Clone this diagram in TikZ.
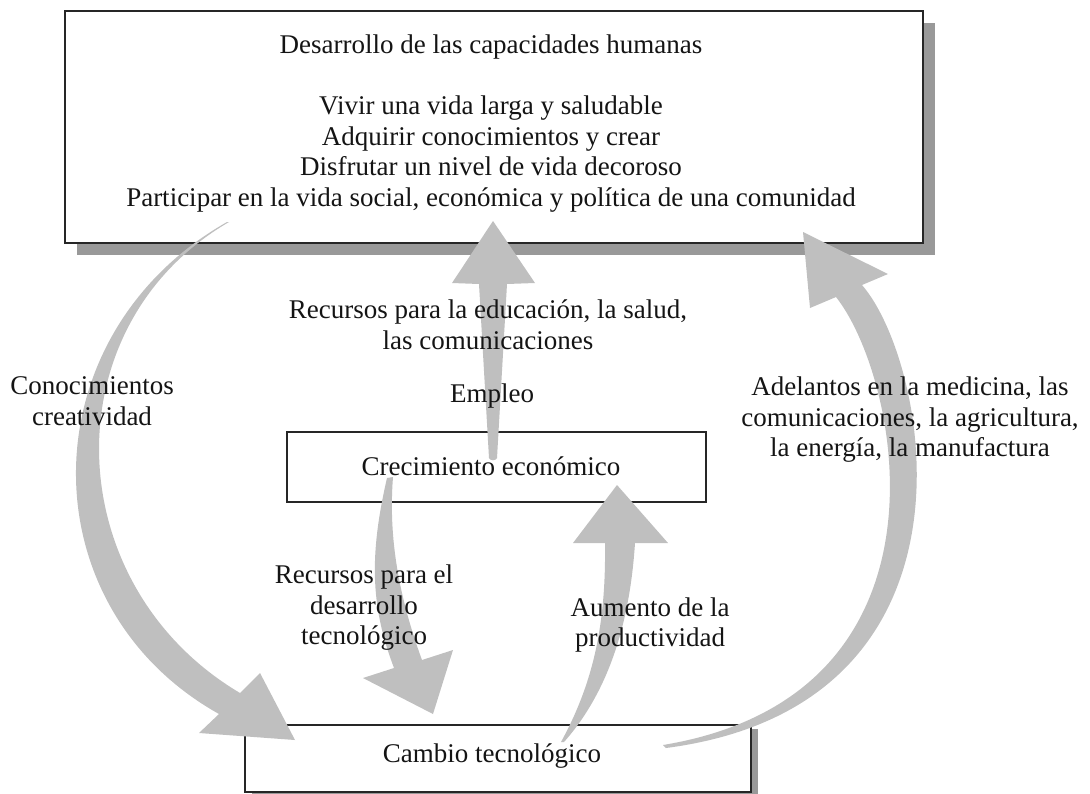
\documentclass[tikz,border=0pt]{standalone}
\usepackage{fontspec}
\setmainfont{Liberation Serif}
\usetikzlibrary{shadows}
\definecolor{flecha}{gray}{0.75}
\definecolor{sombra}{gray}{0.6}
\begin{document}
\begin{tikzpicture}
[x=1pt, y=-1pt,
  cajadecorate/.style={shape=rectangle,draw=black!85,fill=white,inner sep=0pt},
  textdecorate/.style={align=center,font=\fontsize{27}{30.5}\selectfont,text=black!92},
  flechadecorate/.style={fill=flecha}]
\useasboundingbox (0,0) rectangle (1090,793);
\clip (0,0) rectangle (1090,793);
%% boxes
\node (capacidades) at (494,127) [cajadecorate,line width=1.2pt,
  minimum width=858pt,minimum height=232pt,
  drop shadow={shadow xshift=12pt,shadow yshift=-12pt,fill=sombra,opacity=1}] {};
\node (crecimiento) at (496.5,467) [cajadecorate,line width=2.8pt,
  minimum width=419pt,minimum height=70pt] {};
\node (cambio) at (498,758.5) [cajadecorate,line width=1.2pt,
  minimum width=506pt,minimum height=67pt,
  drop shadow={shadow xshift=7pt,shadow yshift=-4pt,fill=sombra,opacity=1}] {};
%% arrows
% conocimientos, creatividad
\fill[flechadecorate] (227,222) .. controls (28,335) and (26,606) .. (219,714)
  -- (199,733) -- (295,740) -- (260,673) -- (240,693)
  .. controls (58,585) and (50,326) .. (229,222) -- cycle;
% adelantos
\fill[flechadecorate] (666,748) .. controls (995,705) and (929,362) .. (862,285)
  -- (888,274) -- (803,232) -- (810,308) -- (836,297)
  .. controls (900,378) and (965,695) .. (663,745) -- cycle;
% recursos, empleo
\fill[flechadecorate] (489,458) -- (479,284) -- (452,283) -- (493,221)
  -- (535,283) -- (507,284) -- (497,458)
  .. controls (496,461) and (490,461) .. (489,458) -- cycle;
% recursos para el desarrollo
\fill[flechadecorate] (387,478) .. controls (368,560) and (372,610) .. (394,668)
  -- (363,678) -- (433,714) -- (453,650) -- (422,660)
  .. controls (400,600) and (388,540) .. (393,477) -- cycle;
% aumento de la productividad
\fill[flechadecorate] (561,742) .. controls (595,680) and (606,620) .. (605,543)
  -- (573,543) -- (617,485) -- (668,543) -- (635,543)
  .. controls (630,620) and (610,690) .. (564,742) -- cycle;
%% labels
\node (capacidadesTxt) at (491,123.5) [textdecorate] {Desarrollo de las capacidades humanas\\[31pt]
  Vivir una vida larga y saludable\\
  Adquirir conocimientos y crear\\
  Disfrutar un nivel de vida decoroso\\
  Participar en la vida social, económica y política de una comunidad};
\node (educacion) at (488,324.5) [textdecorate] {Recursos para la educación, la salud,\\las comunicaciones};
\node (empleo) at (492,402) [textdecorate,anchor=base] {Empleo};
\node (crecimientoTxt) at (491,475) [textdecorate,anchor=base] {Crecimiento económico};
\node (conocimientos) at (92,401) [textdecorate] {Conocimientos\\creatividad};
\node (adelantos) at (910,420) [textdecorate] {Adelantos en la medicina, las\\comunicaciones, la agricultura,\\la energía, la manufactura};
\node (recursosTec) at (364,608) [textdecorate] {Recursos para el\\desarrollo\\tecnológico};
\node (aumento) at (650,625) [textdecorate] {Aumento de la\\productividad};
\node (cambioTxt) at (492,762) [textdecorate,anchor=base] {Cambio tecnológico};
\end{tikzpicture}
\end{document}
